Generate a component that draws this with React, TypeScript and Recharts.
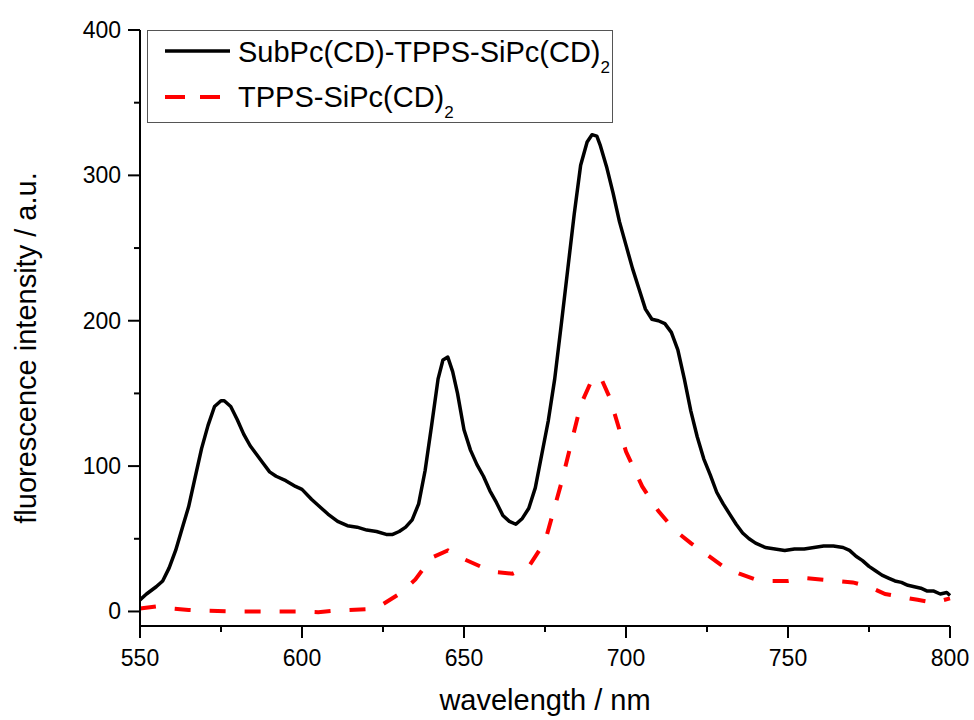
import { LineChart, Line, XAxis, YAxis } from "recharts";

const FONT = "'Liberation Sans', Arial, sans-serif";

// SubPc(CD)-TPPS-SiPc(CD)2 (solid black)
const blackWl = [
  550, 552, 555, 557, 559, 561, 563, 565, 567, 569, 571, 573, 575, 576, 578,
  580, 582, 584, 586, 588, 590, 592, 595, 598, 600, 603, 606, 608, 611, 614,
  617, 620, 623, 626, 628, 630, 632, 634, 636, 638, 640, 642, 643.5, 645,
  646.5, 648, 650, 652, 654, 656, 658, 660, 662, 664, 666, 668, 670, 672, 674,
  676, 678, 680, 682, 684, 686, 688, 689.5, 691, 692, 694, 696, 698, 700, 702,
  704, 706, 708, 710, 712, 714, 716, 718, 720, 722, 724, 726, 728, 730, 732,
  734, 736, 738, 740, 743, 746, 749, 752, 755, 758, 761, 764, 767, 769, 771,
  773, 775, 777, 779, 781, 783, 785, 787, 789, 791, 793, 795, 797, 799, 800,
];
const blackVal = [
  8, 12, 17, 21, 30, 42, 57, 72, 92, 112, 128, 141, 145, 145, 141,
  132, 122, 114, 108, 102, 96, 93, 90, 86, 84, 77, 71, 67, 62, 59,
  58, 56, 55, 53, 53, 55, 58, 63, 74, 97, 128, 160, 173, 175,
  165, 150, 125, 111, 101, 93, 83, 75, 66, 62, 60, 64, 71, 85, 108,
  131, 160, 197, 235, 273, 307, 323, 328, 327, 321, 306, 288, 268, 252, 236,
  222, 208, 201, 200, 198, 192, 180, 160, 138, 120, 105, 94, 82, 74, 67,
  60, 54, 50, 47, 44, 43, 42, 43, 43, 44, 45, 45, 44, 42, 38,
  35, 31, 28, 25, 23, 21, 20, 18, 17, 16, 14, 14, 12, 13, 11,
];

// TPPS-SiPc(CD)2 (dashed red)
const redWl = [
  550, 555, 560, 565, 570, 580, 590, 600, 605, 610, 620, 625, 630, 635, 640,
  645, 650, 655, 660, 665, 670, 675, 680, 683, 686, 689, 692, 695, 700, 705,
  710, 715, 720, 725, 730, 735, 740, 745, 750, 755, 760, 765, 770, 775, 780,
  785, 790, 795, 800,
];
const redVal = [
  2, 3.5, 2, 1, 0.5, 0, 0, 0, -0.5, 0.5, 1.5, 5, 12, 22, 37,
  42, 36, 31, 27, 26, 31, 48, 88, 115, 142, 157, 162, 147, 110, 86,
  69, 56, 47, 39, 31, 26, 22, 21, 21, 23, 22, 21, 20, 17, 12,
  10, 8, 6, 9,
];

const xTicks = [550, 575, 600, 625, 650, 675, 700, 725, 750, 775, 800];
const yTicks = [0, 50, 100, 150, 200, 250, 300, 350, 400];

const blackData = blackWl.map((x, i) => ({ x, y: blackVal[i] }));
const redData = redWl.map((x, i) => ({ x, y: redVal[i] }));

function XTick(props: any) {
  const { x, y, payload } = props;
  const major = payload.value % 50 === 0;
  return (
    <g>
      <line x1={x} y1={y} x2={x} y2={y + (major ? 12 : 6)} stroke="#000" strokeWidth={2} />
      {major && (
        <text x={x} y={y + 40} textAnchor="middle" fontSize={23} fill="#000" fontFamily={FONT}>
          {payload.value}
        </text>
      )}
    </g>
  );
}

function YTick(props: any) {
  const { x, y, payload } = props;
  const major = payload.value % 100 === 0;
  return (
    <g>
      <line x1={x - (major ? 12 : 6)} y1={y} x2={x} y2={y} stroke="#000" strokeWidth={2} />
      {major && (
        <text x={x - 19} y={y} dy={8} textAnchor="end" fontSize={23} fill="#000" fontFamily={FONT}>
          {payload.value}
        </text>
      )}
    </g>
  );
}

const yTitle = () => (
  <text
    x={36}
    y={348}
    transform="rotate(-90 36 348)"
    textAnchor="middle"
    fontSize={29}
    fill="#000"
    fontFamily={FONT}
  >
    fluorescence intensity / a.u.
  </text>
);

function ChartLegend() {
  return (
    <svg
      width={974}
      height={720}
      style={{ position: "absolute", left: 0, top: 0, pointerEvents: "none" }}
    >
      <rect x={147.5} y={30.5} width={465} height={92} fill="#fff" stroke="#555" strokeWidth={1} />
      <line x1={165} y1={51} x2={230} y2={51} stroke="#000" strokeWidth={3.5} />
      <text x={238} y={62} fontSize={29} fill="#000" fontFamily={FONT}>
        SubPc(CD)-TPPS-SiPc(CD)
        <tspan fontSize={17} dy={11}>2</tspan>
      </text>
      <line x1={165} y1={97} x2={222} y2={97} stroke="#ff0000" strokeWidth={4} strokeDasharray="20 15" />
      <text x={238} y={107} fontSize={29} fill="#000" fontFamily={FONT}>
        TPPS-SiPc(CD)
        <tspan fontSize={17} dy={11}>2</tspan>
      </text>
    </svg>
  );
}

export default function App() {
  return (
    <div style={{ position: "absolute", left: 0, top: 0, width: 974, height: 720, background: "#fff" }}>
      <LineChart
        width={974}
        height={720}
        margin={{ top: 30, right: 24, bottom: 0, left: 0 }}
        style={{ fontFamily: FONT }}
      >
        <XAxis
          type="number"
          dataKey="x"
          domain={[550, 800]}
          ticks={xTicks}
          interval={0}
          height={94}
          tickSize={0}
          tickMargin={0}
          tickLine={false}
          tick={<XTick />}
          axisLine={{ stroke: "#000", strokeWidth: 2 }}
          label={{
            value: "wavelength / nm",
            position: "insideBottom",
            offset: 10,
            style: { fontSize: 29, fill: "#000", fontFamily: FONT },
          }}
        />
        <YAxis
          type="number"
          domain={[-10, 400]}
          ticks={yTicks}
          interval={0}
          width={140}
          tickSize={0}
          tickMargin={0}
          tickLine={false}
          tick={<YTick />}
          axisLine={{ stroke: "#000", strokeWidth: 2 }}
          label={yTitle}
        />
        <Line
          data={blackData}
          dataKey="y"
          type="linear"
          stroke="#000"
          strokeWidth={3.5}
          strokeLinejoin="round"
          dot={false}
          isAnimationActive={false}
        />
        <Line
          data={redData}
          dataKey="y"
          type="linear"
          stroke="#ff0000"
          strokeWidth={4}
          strokeDasharray="16 19"
          dot={false}
          isAnimationActive={false}
        />
      </LineChart>
      <ChartLegend />
    </div>
  );
}
